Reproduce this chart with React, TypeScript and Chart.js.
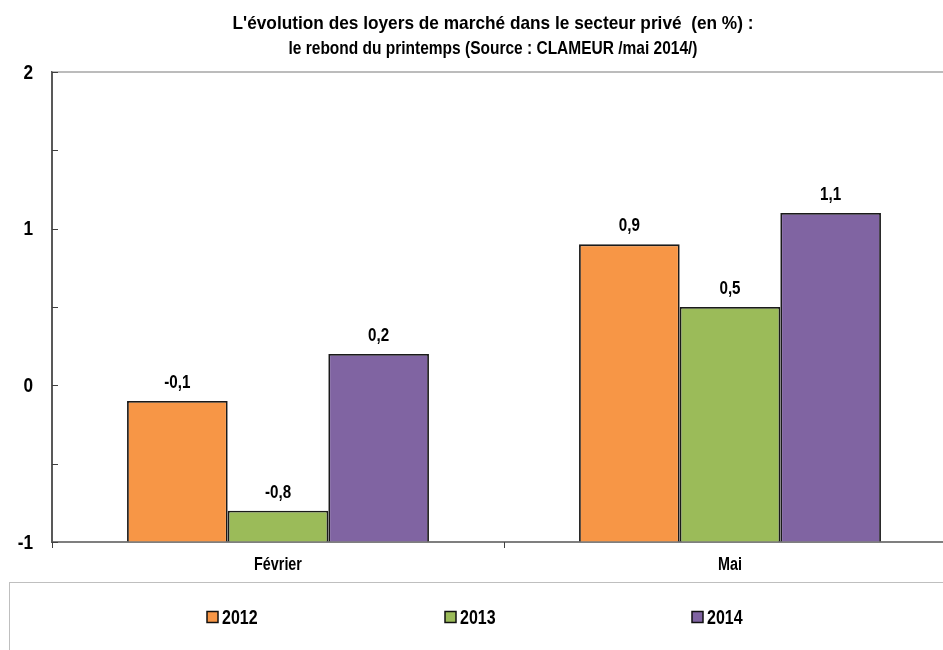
import React, { useEffect, useRef } from 'react';
import { Chart, registerables } from 'chart.js';

Chart.register(...registerables);

// ---- data ----
const titleLines = [
  "L'évolution des loyers de marché dans le secteur privé  (en %) :",
  'le rebond du printemps (Source : CLAMEUR /mai 2014/)',
];
const categories = ['Février', 'Mai'];
const years = ['2012', '2013', '2014'];
const values2012 = [-0.1, 0.9];
const values2013 = [-0.8, 0.5];
const values2014 = [0.2, 1.1];
const yTickLabels = [-1, 0, 1, 2];

// ---- style / layout ----
const colors = ['#F79646', '#9BBB59', '#8064A2'];
const FONT = '"Liberation Sans", Arial, sans-serif';
const NARROW = 0.82;
const CANVAS_W = 960;
const CANVAS_H = 650;
const TITLE_CENTER_X = 493;
const titleBaselines = [29, 54];
const titleWidths = [521, 409];
const legendX = [207, 445, 692];
const legendY = 617;

const fmt = (v: number) => v.toFixed(1).replace('.', ',');

function drawText(
  ctx: CanvasRenderingContext2D,
  text: string,
  x: number,
  y: number,
  size: number,
  align: CanvasTextAlign,
  baseline: CanvasTextBaseline,
  sx: number = NARROW
) {
  ctx.save();
  ctx.font = `bold ${size}px ${FONT}`;
  ctx.fillStyle = '#000';
  ctx.textAlign = align;
  ctx.textBaseline = baseline;
  ctx.translate(x, y);
  ctx.scale(sx, 1);
  ctx.fillText(text, 0, 0);
  ctx.restore();
}

const decorPlugin = {
  id: 'decor',
  beforeDatasetsDraw(chart: any) {
    const { ctx, chartArea } = chart;
    ctx.save();
    ctx.strokeStyle = '#A6A6A6';
    ctx.lineWidth = 1.5;
    ctx.beginPath();
    ctx.moveTo(chartArea.left, chartArea.top);
    ctx.lineTo(chartArea.right, chartArea.top);
    ctx.stroke();
    ctx.restore();
  },
  afterDatasetsDraw(chart: any) {
    const { ctx, chartArea } = chart;
    const yScale = chart.scales.y;
    const xScale = chart.scales.x;
    // data labels
    chart.data.datasets.forEach((ds: any, i: number) => {
      const meta = chart.getDatasetMeta(i);
      meta.data.forEach((bar: any, j: number) => {
        drawText(ctx, fmt(ds.data[j]), bar.x, bar.y - 13, 18.5, 'center', 'alphabetic');
      });
    });
    ctx.save();
    // y tick marks inside plot
    ctx.strokeStyle = '#404040';
    ctx.lineWidth = 1;
    for (let v = yScale.min; v <= yScale.max + 1e-9; v += 0.5) {
      const py = Math.round(yScale.getPixelForValue(v)) + 0.5;
      ctx.beginPath();
      ctx.moveTo(chartArea.left, py);
      ctx.lineTo(chartArea.left + 6, py);
      ctx.stroke();
    }
    // x category boundary ticks
    const n = categories.length;
    for (let k = 0; k <= n; k++) {
      const px = Math.round(xScale.left + (xScale.width * k) / n) + 0.5;
      ctx.beginPath();
      ctx.moveTo(px, chartArea.bottom);
      ctx.lineTo(px, chartArea.bottom + 6);
      ctx.stroke();
    }
    ctx.restore();
    // y tick labels
    yTickLabels.forEach((v) => {
      drawText(ctx, String(v), 33, yScale.getPixelForValue(v) + 1, 21, 'right', 'middle');
    });
    // x category labels
    categories.forEach((c, i) => {
      drawText(ctx, c, xScale.getPixelForValue(i), chartArea.bottom + 28, 17.5, 'center', 'alphabetic');
    });
  },
  afterDraw(chart: any) {
    const { ctx } = chart;
    // title
    titleLines.forEach((line, i) => {
      ctx.save();
      ctx.font = `bold 19px ${FONT}`;
      const w = ctx.measureText(line).width;
      ctx.restore();
      drawText(ctx, line, TITLE_CENTER_X, titleBaselines[i], 19, 'center', 'alphabetic', titleWidths[i] / w);
    });
    ctx.save();
    // legend frame
    ctx.strokeStyle = '#BFBFBF';
    ctx.lineWidth = 1;
    ctx.strokeRect(9.5, 582.5, 2000, 200);
    // legend items
    chart.data.datasets.forEach((ds: any, i: number) => {
      const x = legendX[i];
      ctx.fillStyle = ds.backgroundColor;
      ctx.fillRect(x, legendY - 5.5, 11, 11);
      ctx.strokeStyle = '#111';
      ctx.lineWidth = 1.5;
      ctx.strokeRect(x, legendY - 5.5, 11, 11);
      drawText(ctx, ds.label, x + 15, legendY + 7, 19.5, 'left', 'alphabetic');
    });
    ctx.restore();
  },
};

export default function App() {
  const ref = useRef<HTMLCanvasElement | null>(null);
  useEffect(() => {
    if (!ref.current) return;
    const series = [values2012, values2013, values2014];
    const chart = new Chart(ref.current, {
      type: 'bar',
      data: {
        labels: categories,
        datasets: years.map((y, i) => ({
          label: y,
          data: series[i],
          backgroundColor: colors[i],
          borderColor: '#1a1a1a',
          borderWidth: 1.8,
          base: -1,
          categoryPercentage: 0.668,
          barPercentage: 1,
        })),
      },
      options: {
        responsive: false,
        animation: false,
        layout: { padding: { left: 0, right: 4, top: 72, bottom: 78 } },
        plugins: {
          legend: { display: false },
          tooltip: { enabled: false },
          title: { display: false },
        },
        scales: {
          x: {
            type: 'category',
            grid: { display: true, drawOnChartArea: false, drawTicks: false },
            border: { display: true, color: '#7F7F7F', width: 2 },
            ticks: { display: false },
            afterFit: (s: any) => { s.height = 30; },
          },
          y: {
            min: -1,
            max: 2,
            grid: { display: true, drawOnChartArea: false, drawTicks: false },
            border: { display: true, color: '#595959', width: 2 },
            ticks: { display: false, stepSize: 0.5 },
            afterFit: (s: any) => { s.width = 52; },
          },
        },
      },
      plugins: [decorPlugin],
    });
    return () => chart.destroy();
  }, []);
  return (
    <div style={{ position: 'fixed', left: 0, top: 0, width: 943, height: 650, overflow: 'hidden', background: '#fff' }}>
      <canvas ref={ref} width={CANVAS_W} height={CANVAS_H} style={{ display: 'block' }} />
    </div>
  );
}
